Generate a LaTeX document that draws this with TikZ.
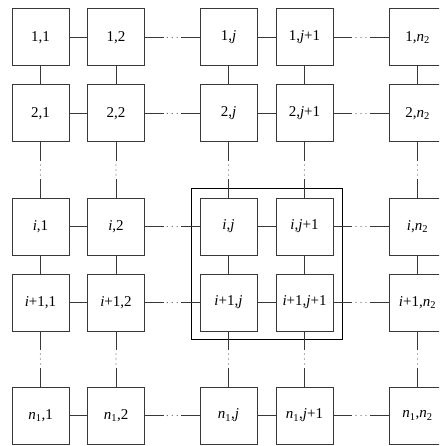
\documentclass[tikz,border=0pt]{standalone}
\usepackage{fontspec}
\setmainfont{Liberation Serif}
\usetikzlibrary{calc}
\newcommand\vi{\textit{i}}
\newcommand\vj{\textit{j}}
\newcommand\nA{\textit{n}\textsubscript{1}}
\newcommand\nB{\textit{n}\textsubscript{2}}
\tikzset{
  cell/.style={draw=black!78, line width=1pt, minimum width=57pt, minimum height=57pt,
    inner sep=0pt, font=\fontsize{15}{18}\selectfont},
  conn/.style={draw=black!78, line width=1pt},
  dotmark/.style={fill=black!60},
  frame/.style={draw=black, line width=0.8pt}
}
\newcommand\gapconn[2]{%
  \draw[conn] (#1) -- ($(#1)!0.34!(#2)$) ($(#1)!0.66!(#2)$) -- (#2);
  \foreach \t in {0.41,0.5,0.59} \fill[dotmark] ($(#1)!\t!(#2)$) circle[radius=0.65pt];}
\begin{document}
\begin{tikzpicture}[x=1pt,y=-1pt]
\clip (0,0) rectangle (439,446);
\fill[white] (0,0) rectangle (439,446);
% frame around the 2x2 block
\draw[frame] (191,188) rectangle (342,339);
% cells
\foreach \r/\y/\rl in {1/37.5/1, 2/113.5/2, 3/226.5/\vi, 4/302.5/\vi+1, 5/415.5/\nA}{
  \foreach \c/\x/\cl in {1/40.5/1, 2/116/2, 3/228.5/\vj, 4/304.5/\vj+1, 5/417.5/\nB}{
    \node[cell] (r\r c\c) at (\x,\y) {\rl,\cl};
  }
}
% horizontal connectors
\foreach \r in {1,...,5}{
  \draw[conn] (r\r c1.east) -- (r\r c2.west);
  \draw[conn] (r\r c3.east) -- (r\r c4.west);
  \gapconn{r\r c2.east}{r\r c3.west}
  \gapconn{r\r c4.east}{r\r c5.west}
}
% vertical connectors
\foreach \c in {1,...,5}{
  \draw[conn] (r1c\c.south) -- (r2c\c.north);
  \draw[conn] (r3c\c.south) -- (r4c\c.north);
  \gapconn{r2c\c.south}{r3c\c.north}
  \gapconn{r4c\c.south}{r5c\c.north}
}
\end{tikzpicture}
\end{document}
